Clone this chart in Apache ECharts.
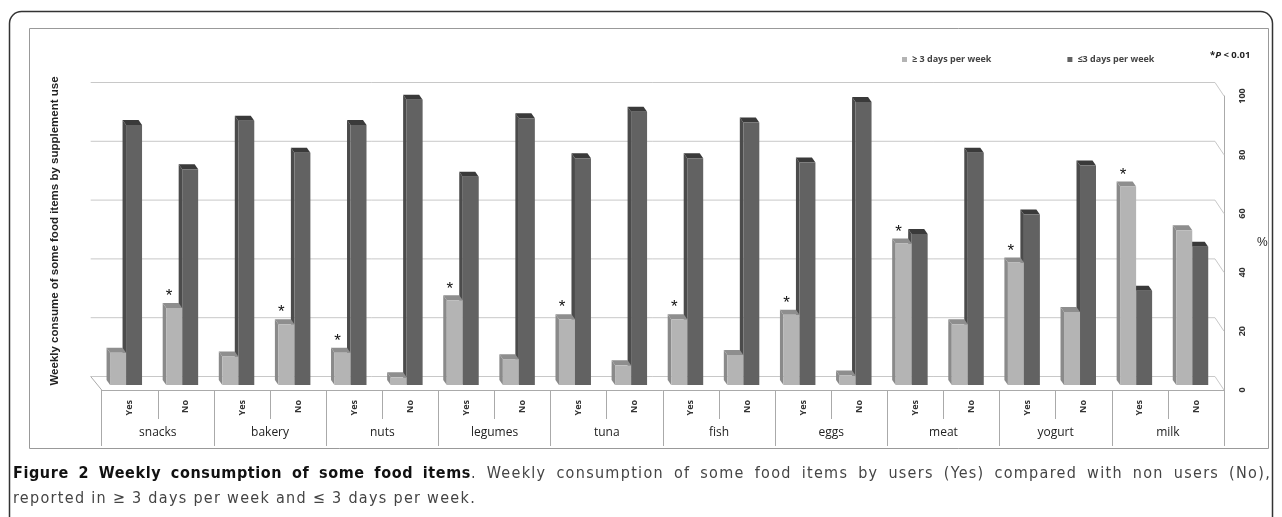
<!DOCTYPE html>
<html>
<head>
<meta charset="utf-8">
<script src="https://cdn.jsdelivr.net/npm/echarts@6/dist/echarts.min.js"></script>
<style>
  html, body { margin: 0; padding: 0; background: #fff; }
  #wrap { position: relative; width: 1282px; height: 517px; overflow: hidden; }
  #chart { width: 1282px; height: 517px; }
  #caption { position: absolute; left: 13px; top: 460px; width: 1258px;
             font-family: 'DejaVu Sans Condensed', sans-serif; font-size: 16px;
             letter-spacing: 1.3px; line-height: 25px; color: #444; }
  #caption .l1 { text-align: justify; text-align-last: justify; white-space: nowrap; }
  #caption b { color: #111; letter-spacing: 0.6px; }
</style>
</head>
<body>
<div id="wrap">
<div id="chart"></div>
<div id="caption">
  <div class="l1"><b>Figure 2 Weekly consumption of some food items</b>. Weekly consumption of some food items by users (Yes) compared with non users (No),</div>
  <div>reported in ≥ 3 days per week and ≤ 3 days per week.</div>
</div>
</div>
<script>
// food groups and user / non-user split
var groups = ['snacks', 'bakery', 'nuts', 'legumes', 'tuna', 'fish', 'eggs', 'meat', 'yogurt', 'milk'];
var users = ['Yes', 'No'];
// % consuming >= 3 days per week (light bars)
var ge3 = [11, 26.2, 9.7, 20.7, 11, 2.6, 28.8, 8.8, 22.4, 6.7, 22.4, 10.2, 23.9, 3.2, 48.1, 20.7, 41.7, 24.8, 67.5, 52.6];
// % consuming <= 3 days per week (dark bars)
var le3 = [88.4, 73.4, 89.9, 79, 88.4, 97, 70.8, 90.7, 77.1, 92.9, 77.1, 89.3, 75.7, 96.3, 51.4, 79, 58, 74.7, 32.1, 47];
// *P < 0.01 marks on the light bars
var sig = [0, 1, 0, 1, 1, 0, 1, 0, 1, 0, 1, 0, 1, 0, 1, 0, 1, 0, 1, 0];
var yTicks = [0, 20, 40, 60, 80, 100];

var categories = [];
groups.forEach(function () {
    users.forEach(function (u) { categories.push(u); });
});

var DX = 3.5, DY = 5;      // bar depth
var WX = -11, WY = -13.5;  // back wall offset

// light bar first in the pair (k=0), dark bar second (k=1)
function barItem(k, colors) {
    return function (params, api) {
        var i = api.value(0), v = api.value(1);
        var base = api.coord([i, 0]);
        var top = api.coord([i, v]);
        var band = api.size([1, 0])[0];
        var w = band * 0.285;
        var x0 = base[0] - band * 0.066 - w + k * w;
        var yb = base[1] - 5, yt = top[1] - 5;
        var kids = [
            {type: 'polygon', shape: {points: [[x0, yb], [x0, yt], [x0 - DX, yt - DY], [x0 - DX, yb - DY]]},
             style: {fill: colors[2]}},
            {type: 'polygon', shape: {points: [[x0, yt], [x0 + w, yt], [x0 + w - DX, yt - DY], [x0 - DX, yt - DY]]},
             style: {fill: colors[1]}},
            {type: 'rect', shape: {x: x0, y: yt, width: w, height: yb - yt}, style: {fill: colors[0]}}
        ];
        if (k === 0 && sig[i]) {
            kids.push({type: 'text', style: {
                text: '*', x: x0 + 3, y: yt - DY + 2, align: 'center', verticalAlign: 'bottom',
                fontSize: 17, fontFamily: 'Liberation Sans', fill: '#111'
            }});
        }
        return {type: 'group', children: kids};
    };
}

var chart = echarts.init(document.getElementById('chart'));
chart.setOption({
    backgroundColor: '#fff',
    animation: false,
    grid: {left: 101.7, right: 58, top: 96, bottom: 127},
    legend: {
        data: ['≥ 3 days per week', '≤3 days per week'],
        left: 897, top: 50,
        icon: 'rect', itemWidth: 5, itemHeight: 5, itemGap: 76,
        textStyle: {fontSize: 9, fontWeight: 'bold', color: '#444', fontFamily: 'Open Sans'}
    },
    xAxis: [{
        type: 'category', data: categories, position: 'bottom',
        axisLine: {lineStyle: {color: '#aaa'}},
        axisTick: {show: true, interval: 0, length: 29, lineStyle: {color: '#aaa'}},
        axisLabel: {interval: 0, rotate: 90, margin: 10, fontSize: 9, fontWeight: 'bold',
                    color: '#333', fontFamily: 'Open Sans'}
    }, {
        type: 'category', data: groups, position: 'bottom',
        axisLine: {show: false},
        axisTick: {show: true, interval: 0, length: 56, lineStyle: {color: '#aaa'}},
        axisLabel: {interval: 0, margin: 37, fontSize: 12, color: '#222', fontFamily: 'Open Sans'}
    }],
    yAxis: {
        type: 'value', min: 0, max: 100, interval: 20, position: 'right',
        axisLine: {show: true, lineStyle: {color: '#aaa'}},
        axisTick: {show: false},
        splitLine: {show: false},
        axisLabel: {rotate: 90, margin: 14, fontSize: 9, fontWeight: 'bold', color: '#333',
                    fontFamily: 'Open Sans'},
        name: '%', nameLocation: 'middle', nameRotate: 0, nameGap: 33,
        nameTextStyle: {fontSize: 12, color: '#222', fontFamily: 'Liberation Sans'}
    },
    graphic: [
        {type: 'rect', z: -1, shape: {x: 9.5, y: 11.5, width: 1263, height: 620, r: 12},
         style: {fill: 'none', stroke: '#333', lineWidth: 1.5}},
        {type: 'rect', z: -1, shape: {x: 29.5, y: 28.5, width: 1239, height: 420},
         style: {fill: 'none', stroke: '#999', lineWidth: 1}},
        {type: 'text', x: 55, y: 231, rotation: Math.PI / 2,
         style: {text: 'Weekly consume of some food items by supplement use', align: 'center',
                 verticalAlign: 'middle', fontSize: 11.5, fontWeight: 'bold', fill: '#222',
                 fontFamily: 'Liberation Sans'}},
        {type: 'text', x: 1210, y: 55,
         style: {text: '*{i|P} < 0.01', verticalAlign: 'middle', fontSize: 9.5, fontWeight: 'bold',
                 fill: '#222', fontFamily: 'Open Sans',
                 rich: {i: {fontStyle: 'italic', fontSize: 9.5, fontWeight: 'bold', fontFamily: 'Open Sans'}}}}
    ],
    series: [{
        // back wall gridlines and floor
        type: 'custom', name: 'wall', silent: true, z: 1,
        data: yTicks.map(function (v) { return [0, v]; }),
        renderItem: function (params, api) {
            var cs = params.coordSys;
            var v = api.value(1);
            var y = api.coord([0, v])[1];
            var xl = cs.x, xr = cs.x + cs.width;
            var pts = [[xl + WX, y + WY], [xr + WX + 2, y + WY], [xr, y]];
            var kids = [{type: 'polyline', shape: {points: pts}, style: {stroke: '#c8c8c8', lineWidth: 1, fill: null}}];
            if (v === 0) {
                kids.push({type: 'line', shape: {x1: xl + WX, y1: y + WY, x2: xl, y2: y},
                           style: {stroke: '#aaa', lineWidth: 1}});
            }
            return {type: 'group', children: kids};
        }
    }, {
        type: 'custom', name: '≤3 days per week', z: 2,
        itemStyle: {color: '#626262'},
        data: le3.map(function (v, i) { return [i, v]; }),
        renderItem: barItem(1, ['#626262', '#3a3a3a', '#4b4b4b'])
    }, {
        type: 'custom', name: '≥ 3 days per week', z: 3,
        itemStyle: {color: '#b4b4b4'},
        data: ge3.map(function (v, i) { return [i, v]; }),
        renderItem: barItem(0, ['#b4b4b4', '#8e8e8e', '#8a8a8a'])
    }]
});
</script>
</body>
</html>
